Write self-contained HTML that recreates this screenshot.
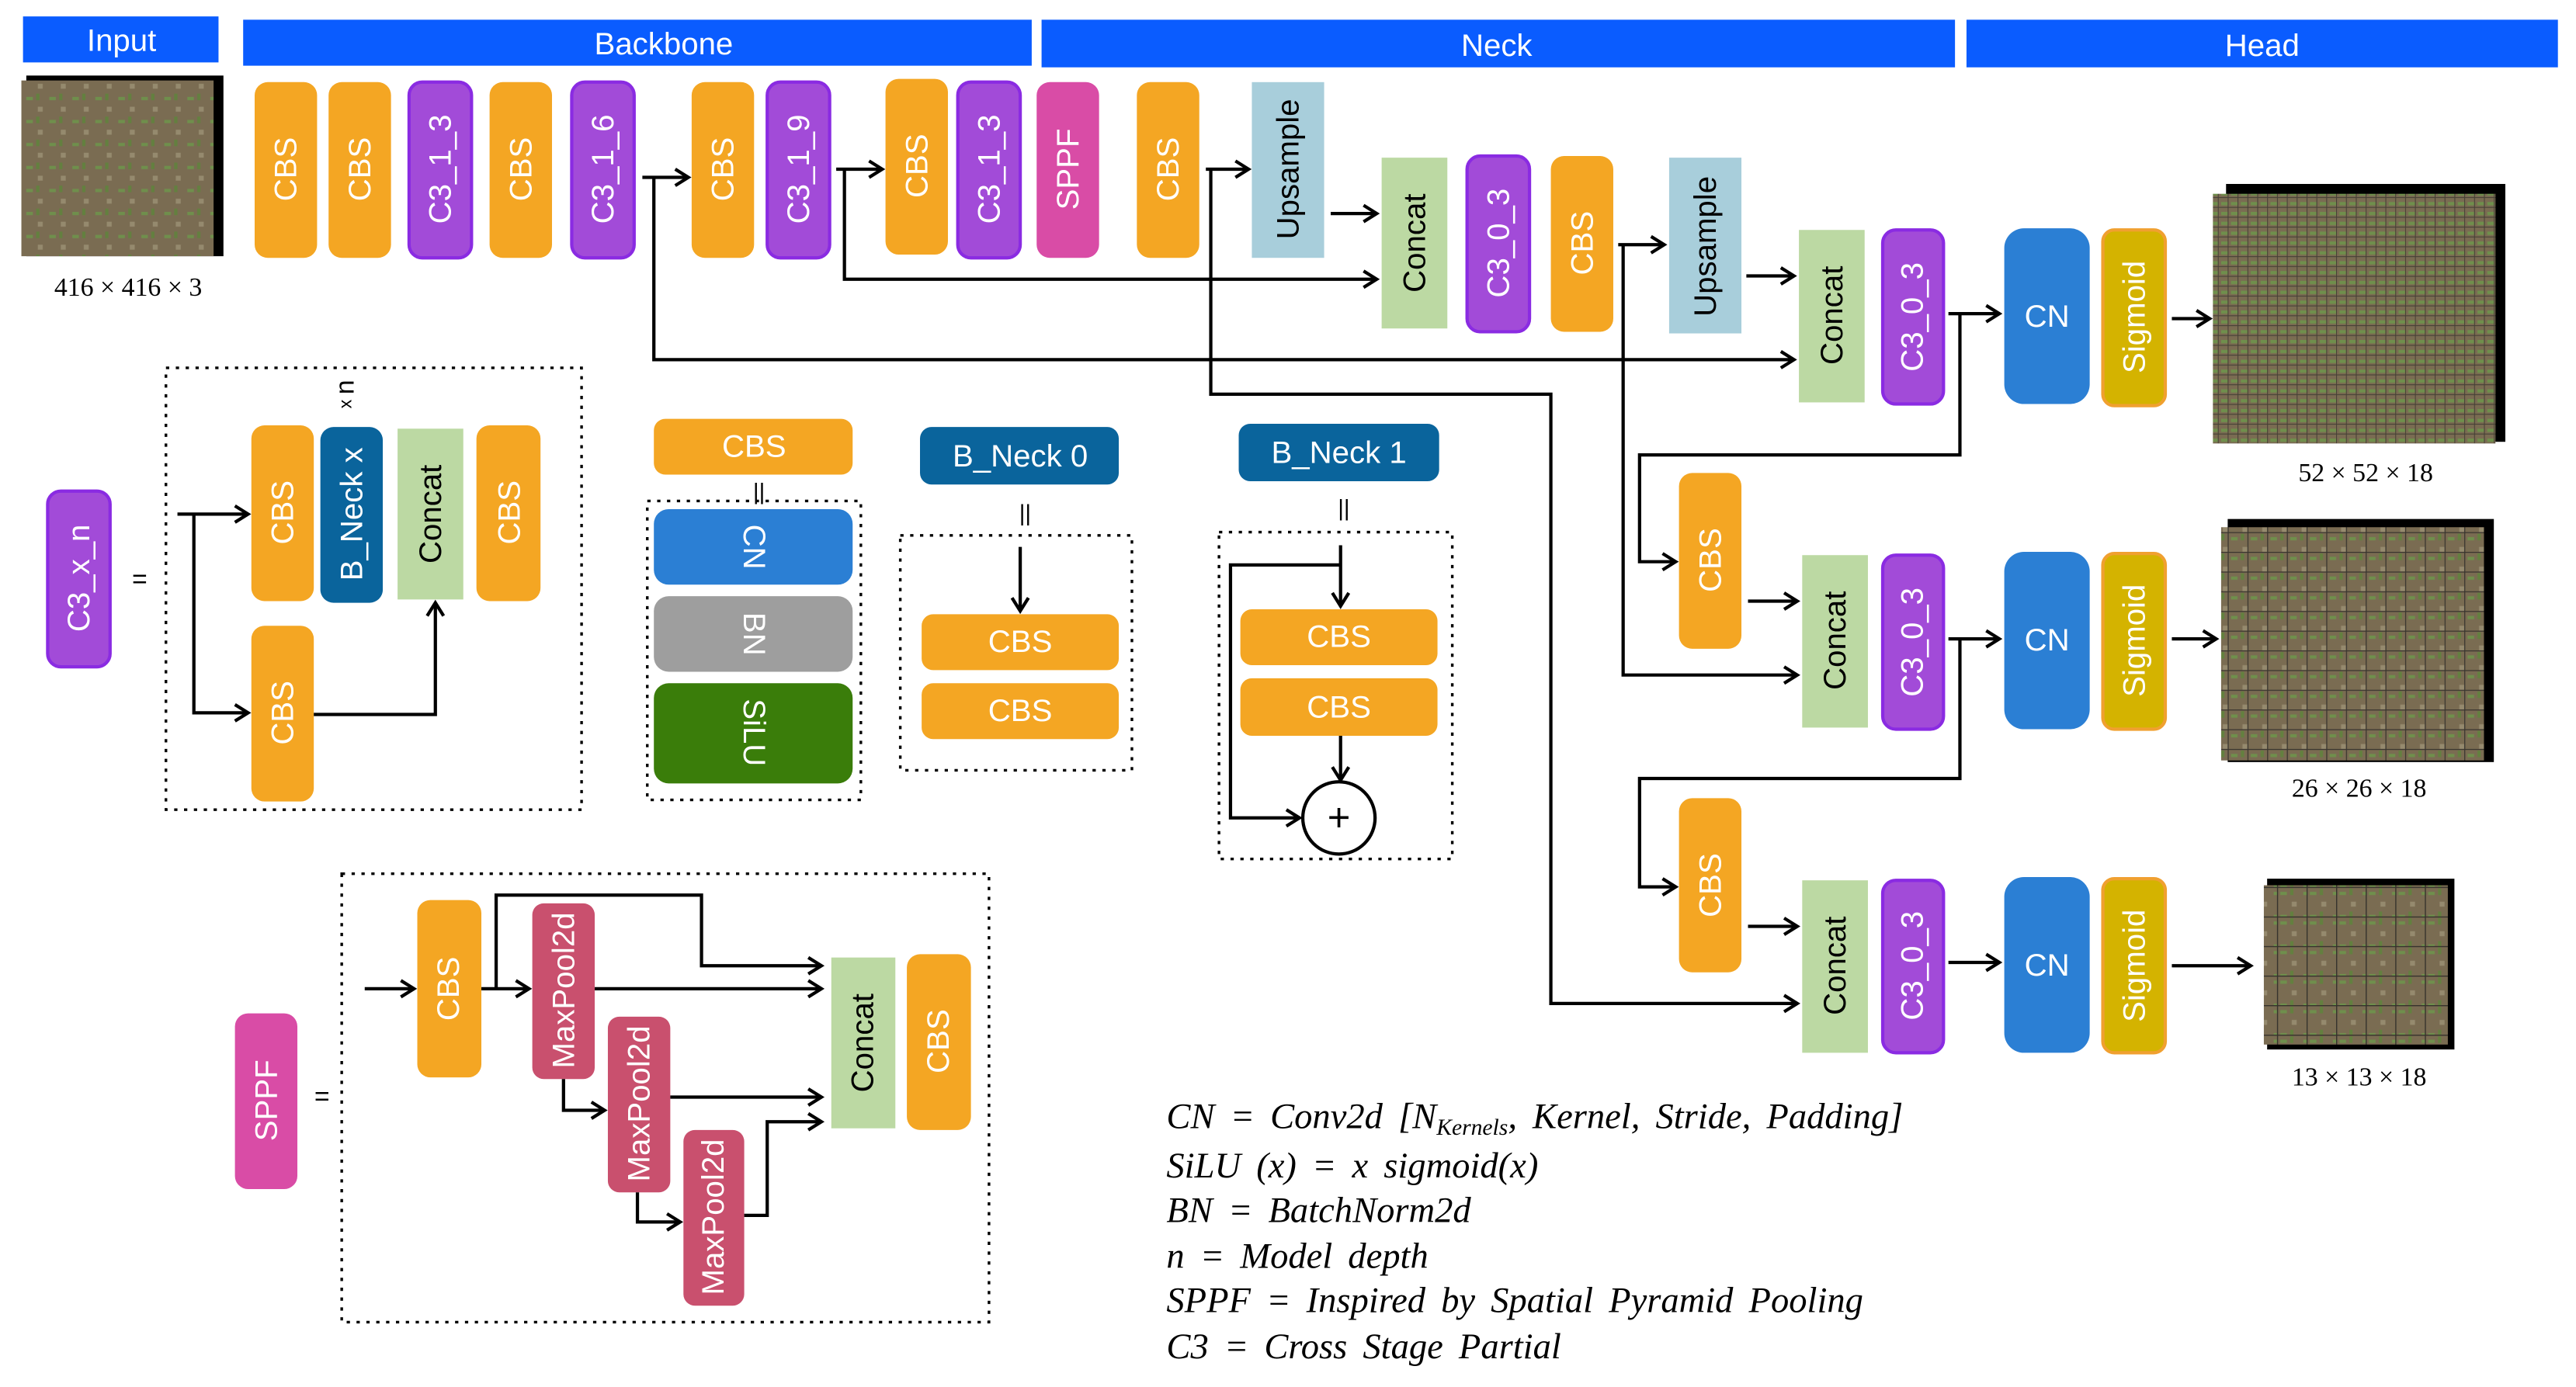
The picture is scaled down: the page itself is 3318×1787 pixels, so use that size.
<!DOCTYPE html>
<html><head><meta charset="utf-8"><style>
html,body{margin:0;padding:0;background:#fff}
svg{display:block}
text{font-family:"Liberation Sans",sans-serif}
.w{fill:#fff;font-size:19px}
.b{fill:#000;font-size:19px}
.lg{font-family:"Liberation Serif",serif;font-style:italic;font-size:22px;fill:#000;word-spacing:4px}
.sz{font-family:"Liberation Serif",serif;font-size:16px}
.ln{fill:none;stroke:#000;stroke-width:2}
.dot{fill:none;stroke:#000;stroke-width:1.6;stroke-dasharray:2 4}
</style></head><body>
<svg width="3318" height="1787" viewBox="0 0 1568 844.5" xmlns="http://www.w3.org/2000/svg">
<defs>
<marker id="a" markerWidth="12" markerHeight="12" refX="10" refY="6" orient="auto" markerUnits="userSpaceOnUse">
<path d="M2,1 L10,6 L2,11" fill="none" stroke="#000" stroke-width="2"/></marker>
<pattern id="tex" width="14" height="14" patternUnits="userSpaceOnUse">
<rect width="14" height="14" fill="#7a6c52"/><rect x="2" y="3" width="4" height="2" fill="#6f8f4c"/><rect x="9" y="9" width="3" height="3" fill="#958a6e"/><rect x="8" y="1" width="2" height="4" fill="#63803f"/></pattern>
<pattern id="g1" width="6" height="6" patternUnits="userSpaceOnUse"><rect width="6" height="6" fill="url(#tex)"/><path d="M0,0H6M0,0V6" stroke="#222" stroke-width="1" opacity=".6"/></pattern>
<pattern id="g2" width="12" height="12" patternUnits="userSpaceOnUse"><rect width="12" height="12" fill="url(#tex)"/><path d="M0,0H12M0,0V12" stroke="#222" stroke-width="1.2" opacity=".75"/></pattern>
<pattern id="g3" width="18" height="18" patternUnits="userSpaceOnUse"><rect width="18" height="18" fill="url(#tex)"/><path d="M0,0H18M0,0V18" stroke="#222" stroke-width="1.3" opacity=".8"/></pattern>
</defs>

<rect x="14" y="10" width="119" height="28" fill="#0a5cff"/><text x="74" y="31" class="w" text-anchor="middle">Input</text>
<rect x="148" y="12" width="480" height="28" fill="#0a5cff"/><text x="404" y="33" class="w" text-anchor="middle">Backbone</text>
<rect x="634" y="12" width="556" height="29" fill="#0a5cff"/><text x="911" y="34" class="w" text-anchor="middle">Neck</text>
<rect x="1197" y="12" width="360" height="29" fill="#0a5cff"/><text x="1377" y="34" class="w" text-anchor="middle">Head</text>

<rect x="16" y="46" width="120" height="110" fill="#000"/>
<rect x="13" y="49" width="117" height="107" fill="url(#tex)"/>
<text x="78" y="180" class="sz" text-anchor="middle">416 × 416 × 3</text>

<rect x="155" y="50" width="38" height="107" rx="8" fill="#f4a623"/><text transform="translate(174,103) rotate(-90)" class="w" text-anchor="middle" dominant-baseline="central">CBS</text>
<rect x="200" y="50" width="38" height="107" rx="8" fill="#f4a623"/><text transform="translate(219,103) rotate(-90)" class="w" text-anchor="middle" dominant-baseline="central">CBS</text>
<rect x="249" y="50" width="38" height="107" rx="8" fill="#a24bd8" stroke="#8a2be2" stroke-width="2"/><text transform="translate(268,103) rotate(-90)" class="w" text-anchor="middle" dominant-baseline="central">C3_1_3</text>
<rect x="298" y="50" width="38" height="107" rx="8" fill="#f4a623"/><text transform="translate(317,103) rotate(-90)" class="w" text-anchor="middle" dominant-baseline="central">CBS</text>
<rect x="348" y="50" width="38" height="107" rx="8" fill="#a24bd8" stroke="#8a2be2" stroke-width="2"/><text transform="translate(367,103) rotate(-90)" class="w" text-anchor="middle" dominant-baseline="central">C3_1_6</text>
<rect x="421" y="50" width="38" height="107" rx="8" fill="#f4a623"/><text transform="translate(440,103) rotate(-90)" class="w" text-anchor="middle" dominant-baseline="central">CBS</text>
<rect x="467" y="50" width="38" height="107" rx="8" fill="#a24bd8" stroke="#8a2be2" stroke-width="2"/><text transform="translate(486,103) rotate(-90)" class="w" text-anchor="middle" dominant-baseline="central">C3_1_9</text>
<rect x="539" y="48" width="38" height="107" rx="8" fill="#f4a623"/><text transform="translate(558,101) rotate(-90)" class="w" text-anchor="middle" dominant-baseline="central">CBS</text>
<rect x="583" y="50" width="38" height="107" rx="8" fill="#a24bd8" stroke="#8a2be2" stroke-width="2"/><text transform="translate(602,103) rotate(-90)" class="w" text-anchor="middle" dominant-baseline="central">C3_1_3</text>
<rect x="631" y="50" width="38" height="107" rx="8" fill="#d94ca6"/><text transform="translate(650,103) rotate(-90)" class="w" text-anchor="middle" dominant-baseline="central">SPPF</text>
<rect x="692" y="50" width="38" height="107" rx="8" fill="#f4a623"/><text transform="translate(711,103) rotate(-90)" class="w" text-anchor="middle" dominant-baseline="central">CBS</text>
<rect x="762" y="50" width="44" height="107" fill="#a8cedb"/><text transform="translate(784,103) rotate(-90)" class="b" text-anchor="middle" dominant-baseline="central">Upsample</text>
<rect x="841" y="96" width="40" height="104" fill="#bcd9a3"/><text transform="translate(861,148) rotate(-90)" class="b" text-anchor="middle" dominant-baseline="central">Concat</text>
<rect x="893" y="95" width="38" height="107" rx="8" fill="#a24bd8" stroke="#8a2be2" stroke-width="2"/><text transform="translate(912,148) rotate(-90)" class="w" text-anchor="middle" dominant-baseline="central">C3_0_3</text>
<rect x="944" y="95" width="38" height="107" rx="8" fill="#f4a623"/><text transform="translate(963,148) rotate(-90)" class="w" text-anchor="middle" dominant-baseline="central">CBS</text>
<rect x="1016" y="96" width="44" height="107" fill="#a8cedb"/><text transform="translate(1038,150) rotate(-90)" class="b" text-anchor="middle" dominant-baseline="central">Upsample</text>
<rect x="1095" y="140" width="40" height="105" fill="#bcd9a3"/><text transform="translate(1115,192) rotate(-90)" class="b" text-anchor="middle" dominant-baseline="central">Concat</text>
<rect x="1146" y="140" width="37" height="106" rx="8" fill="#a24bd8" stroke="#8a2be2" stroke-width="2"/><text transform="translate(1164,193) rotate(-90)" class="w" text-anchor="middle" dominant-baseline="central">C3_0_3</text>
<rect x="1220" y="139" width="52" height="107" rx="12" fill="#2b7fd4"/><text x="1246" y="199" class="w" text-anchor="middle">CN</text>
<rect x="1280" y="140" width="38" height="107" rx="7" fill="#d4b300" stroke="#f0a030" stroke-width="2"/><text transform="translate(1299,193) rotate(-90)" class="w" text-anchor="middle" dominant-baseline="central">Sigmoid</text>
<rect x="1355" y="112" width="170" height="157" fill="#000"/><rect x="1347" y="118" width="172" height="152" fill="url(#g1)"/>
<text x="1440" y="293" class="sz" text-anchor="middle">52 × 52 × 18</text>

<rect x="1022" y="288" width="38" height="107" rx="8" fill="#f4a623"/><text transform="translate(1041,341) rotate(-90)" class="w" text-anchor="middle" dominant-baseline="central">CBS</text>
<rect x="1097" y="338" width="40" height="105" fill="#bcd9a3"/><text transform="translate(1117,390) rotate(-90)" class="b" text-anchor="middle" dominant-baseline="central">Concat</text>
<rect x="1146" y="338" width="37" height="106" rx="8" fill="#a24bd8" stroke="#8a2be2" stroke-width="2"/><text transform="translate(1164,391) rotate(-90)" class="w" text-anchor="middle" dominant-baseline="central">C3_0_3</text>
<rect x="1220" y="336" width="52" height="108" rx="12" fill="#2b7fd4"/><text x="1246" y="396" class="w" text-anchor="middle">CN</text>
<rect x="1280" y="337" width="38" height="107" rx="7" fill="#d4b300" stroke="#f0a030" stroke-width="2"/><text transform="translate(1299,390) rotate(-90)" class="w" text-anchor="middle" dominant-baseline="central">Sigmoid</text>
<rect x="1356" y="316" width="162" height="148" fill="#000"/><rect x="1352" y="321" width="160" height="142" fill="url(#g2)"/>
<text x="1436" y="485" class="sz" text-anchor="middle">26 × 26 × 18</text>

<rect x="1022" y="486" width="38" height="106" rx="8" fill="#f4a623"/><text transform="translate(1041,539) rotate(-90)" class="w" text-anchor="middle" dominant-baseline="central">CBS</text>
<rect x="1097" y="536" width="40" height="105" fill="#bcd9a3"/><text transform="translate(1117,588) rotate(-90)" class="b" text-anchor="middle" dominant-baseline="central">Concat</text>
<rect x="1146" y="536" width="37" height="105" rx="8" fill="#a24bd8" stroke="#8a2be2" stroke-width="2"/><text transform="translate(1164,588) rotate(-90)" class="w" text-anchor="middle" dominant-baseline="central">C3_0_3</text>
<rect x="1220" y="534" width="52" height="107" rx="12" fill="#2b7fd4"/><text x="1246" y="594" class="w" text-anchor="middle">CN</text>
<rect x="1280" y="535" width="38" height="106" rx="7" fill="#d4b300" stroke="#f0a030" stroke-width="2"/><text transform="translate(1299,588) rotate(-90)" class="w" text-anchor="middle" dominant-baseline="central">Sigmoid</text>
<rect x="1380" y="535" width="114" height="104" fill="#000"/><rect x="1378" y="539" width="112" height="97" fill="url(#g3)"/>
<text x="1436" y="661" class="sz" text-anchor="middle">13 × 13 × 18</text>

<path class="ln" d="M391,108H419" marker-end="url(#a)"/>
<path class="ln" d="M398,108V219H1092" marker-end="url(#a)"/>
<path class="ln" d="M509,103H537" marker-end="url(#a)"/>
<path class="ln" d="M514,103V170H838" marker-end="url(#a)"/>
<path class="ln" d="M734,103H760" marker-end="url(#a)"/>
<path class="ln" d="M737,103V240H944V611H1094" marker-end="url(#a)"/>
<path class="ln" d="M810,130H838" marker-end="url(#a)"/>
<path class="ln" d="M985,149H1013" marker-end="url(#a)"/>
<path class="ln" d="M988,149V411H1094" marker-end="url(#a)"/>
<path class="ln" d="M1063,168H1092" marker-end="url(#a)"/>
<path class="ln" d="M1186,191H1217" marker-end="url(#a)"/>
<path class="ln" d="M1193,191V277H998V342H1020" marker-end="url(#a)"/>
<path class="ln" d="M1322,194H1345" marker-end="url(#a)"/>
<path class="ln" d="M1064,366H1094" marker-end="url(#a)"/>
<path class="ln" d="M1186,389H1217" marker-end="url(#a)"/>
<path class="ln" d="M1193,389V474H998V540H1020" marker-end="url(#a)"/>
<path class="ln" d="M1322,389H1349" marker-end="url(#a)"/>
<path class="ln" d="M1064,564H1094" marker-end="url(#a)"/>
<path class="ln" d="M1186,586H1217" marker-end="url(#a)"/>
<path class="ln" d="M1322,588H1370" marker-end="url(#a)"/>

<rect x="29" y="299" width="38" height="107" rx="8" fill="#a24bd8" stroke="#8a2be2" stroke-width="2"/><text transform="translate(48,352) rotate(-90)" class="w" text-anchor="middle" dominant-baseline="central">C3_x_n</text>
<text x="85" y="358" font-size="16" text-anchor="middle">=</text>
<rect x="101" y="224" width="253" height="269" class="dot"/>
<rect x="153" y="259" width="38" height="107" rx="8" fill="#f4a623"/><text transform="translate(172,312) rotate(-90)" class="w" text-anchor="middle" dominant-baseline="central">CBS</text>
<rect x="195" y="260" width="38" height="107" rx="8" fill="#0a649c"/><text transform="translate(214,313) rotate(-90)" class="w" text-anchor="middle" dominant-baseline="central">B_Neck x</text>
<text transform="translate(210,240) rotate(-90)" font-size="16" text-anchor="middle" dominant-baseline="central"><tspan font-size="11">x </tspan>n</text>
<rect x="242" y="261" width="40" height="104" fill="#bcd9a3"/><text transform="translate(262,313) rotate(-90)" class="b" text-anchor="middle" dominant-baseline="central">Concat</text>
<rect x="290" y="259" width="39" height="107" rx="8" fill="#f4a623"/><text transform="translate(310,312) rotate(-90)" class="w" text-anchor="middle" dominant-baseline="central">CBS</text>
<rect x="153" y="381" width="38" height="107" rx="8" fill="#f4a623"/><text transform="translate(172,434) rotate(-90)" class="w" text-anchor="middle" dominant-baseline="central">CBS</text>
<path class="ln" d="M108,313H151" marker-end="url(#a)"/>
<path class="ln" d="M118,313V434H151" marker-end="url(#a)"/>
<path class="ln" d="M191,435H265V367" marker-end="url(#a)"/>

<rect x="398" y="255" width="121" height="34" rx="7" fill="#f4a623"/><text x="459" y="278" class="w" text-anchor="middle">CBS</text>
<text x="462" y="304" font-size="14" text-anchor="middle">||</text>
<rect x="394" y="305" width="130" height="182" class="dot"/>
<rect x="398" y="310" width="121" height="46" rx="9" fill="#2b7fd4"/><text transform="translate(459,333) rotate(90)" class="w" text-anchor="middle" dominant-baseline="central">CN</text>
<rect x="398" y="363" width="121" height="46" rx="9" fill="#9e9e9e"/><text transform="translate(459,386) rotate(90)" class="w" text-anchor="middle" dominant-baseline="central">BN</text>
<rect x="398" y="416" width="121" height="61" rx="9" fill="#3a7d0a"/><text transform="translate(459,446) rotate(90)" class="w" text-anchor="middle" dominant-baseline="central">SiLU</text>

<rect x="560" y="260" width="121" height="35" rx="7" fill="#0a649c"/><text x="621" y="284" class="w" text-anchor="middle">B_Neck 0</text>
<text x="624" y="317" font-size="14" text-anchor="middle">||</text>
<rect x="548" y="326" width="141" height="143" class="dot"/>
<path class="ln" d="M621,333V372" marker-end="url(#a)"/>
<rect x="561" y="374" width="120" height="34" rx="7" fill="#f4a623"/><text x="621" y="397" class="w" text-anchor="middle">CBS</text>
<rect x="561" y="416" width="120" height="34" rx="7" fill="#f4a623"/><text x="621" y="439" class="w" text-anchor="middle">CBS</text>

<rect x="754" y="258" width="122" height="35" rx="7" fill="#0a649c"/><text x="815" y="282" class="w" text-anchor="middle">B_Neck 1</text>
<text x="818" y="314" font-size="14" text-anchor="middle">||</text>
<rect x="742" y="324" width="142" height="199" class="dot"/>
<path class="ln" d="M816,332V369" marker-end="url(#a)"/>
<rect x="755" y="371" width="120" height="34" rx="7" fill="#f4a623"/><text x="815" y="394" class="w" text-anchor="middle">CBS</text>
<rect x="755" y="413" width="120" height="35" rx="7" fill="#f4a623"/><text x="815" y="437" class="w" text-anchor="middle">CBS</text>
<path class="ln" d="M816,448V475" marker-end="url(#a)"/>
<circle cx="815" cy="498" r="22" fill="#fff" stroke="#000" stroke-width="2"/>
<text x="815" y="506" font-size="24" text-anchor="middle">+</text>
<path class="ln" d="M816,344H749V498H791" marker-end="url(#a)"/>

<rect x="143" y="617" width="38" height="107" rx="8" fill="#d94ca6"/><text transform="translate(162,670) rotate(-90)" class="w" text-anchor="middle" dominant-baseline="central">SPPF</text>
<text x="196" y="673" font-size="16" text-anchor="middle">=</text>
<rect x="208" y="532" width="394" height="273" class="dot"/>
<rect x="254" y="548" width="39" height="108" rx="8" fill="#f4a623"/><text transform="translate(273,602) rotate(-90)" class="w" text-anchor="middle" dominant-baseline="central">CBS</text>
<rect x="324" y="550" width="38" height="107" rx="7" fill="#c9506e"/><text transform="translate(343,603) rotate(-90)" class="w" font-size="17" text-anchor="middle" dominant-baseline="central">MaxPool2d</text>
<rect x="370" y="619" width="38" height="107" rx="7" fill="#c9506e"/><text transform="translate(389,672) rotate(-90)" class="w" font-size="17" text-anchor="middle" dominant-baseline="central">MaxPool2d</text>
<rect x="416" y="688" width="37" height="107" rx="7" fill="#c9506e"/><text transform="translate(434,741) rotate(-90)" class="w" font-size="17" text-anchor="middle" dominant-baseline="central">MaxPool2d</text>
<rect x="506" y="583" width="39" height="104" fill="#bcd9a3"/><text transform="translate(525,635) rotate(-90)" class="b" text-anchor="middle" dominant-baseline="central">Concat</text>
<rect x="552" y="581" width="39" height="107" rx="8" fill="#f4a623"/><text transform="translate(571,634) rotate(-90)" class="w" text-anchor="middle" dominant-baseline="central">CBS</text>
<path class="ln" d="M222,602H252" marker-end="url(#a)"/>
<path class="ln" d="M293,602H322" marker-end="url(#a)"/>
<path class="ln" d="M302,602V545H427V588H500" marker-end="url(#a)"/>
<path class="ln" d="M362,602H500" marker-end="url(#a)"/>
<path class="ln" d="M343,657V676H368" marker-end="url(#a)"/>
<path class="ln" d="M408,668H500" marker-end="url(#a)"/>
<path class="ln" d="M388,726V744H414" marker-end="url(#a)"/>
<path class="ln" d="M453,740H467V683H500" marker-end="url(#a)"/>

<text class="lg" x="710" y="687">CN =  Conv2d [N<tspan font-size="14" dy="4">Kernels</tspan><tspan dy="-4">, Kernel,  Stride, Padding]</tspan></text>
<text class="lg" x="710" y="717">SiLU (x)  =  x sigmoid(x)</text>
<text class="lg" x="710" y="744">BN  =  BatchNorm2d</text>
<text class="lg" x="710" y="772">n  =  Model depth</text>
<text class="lg" x="710" y="799">SPPF  =  Inspired by Spatial Pyramid Pooling</text>
<text class="lg" x="710" y="827">C3  =  Cross Stage Partial</text>
</svg>
</body></html>
